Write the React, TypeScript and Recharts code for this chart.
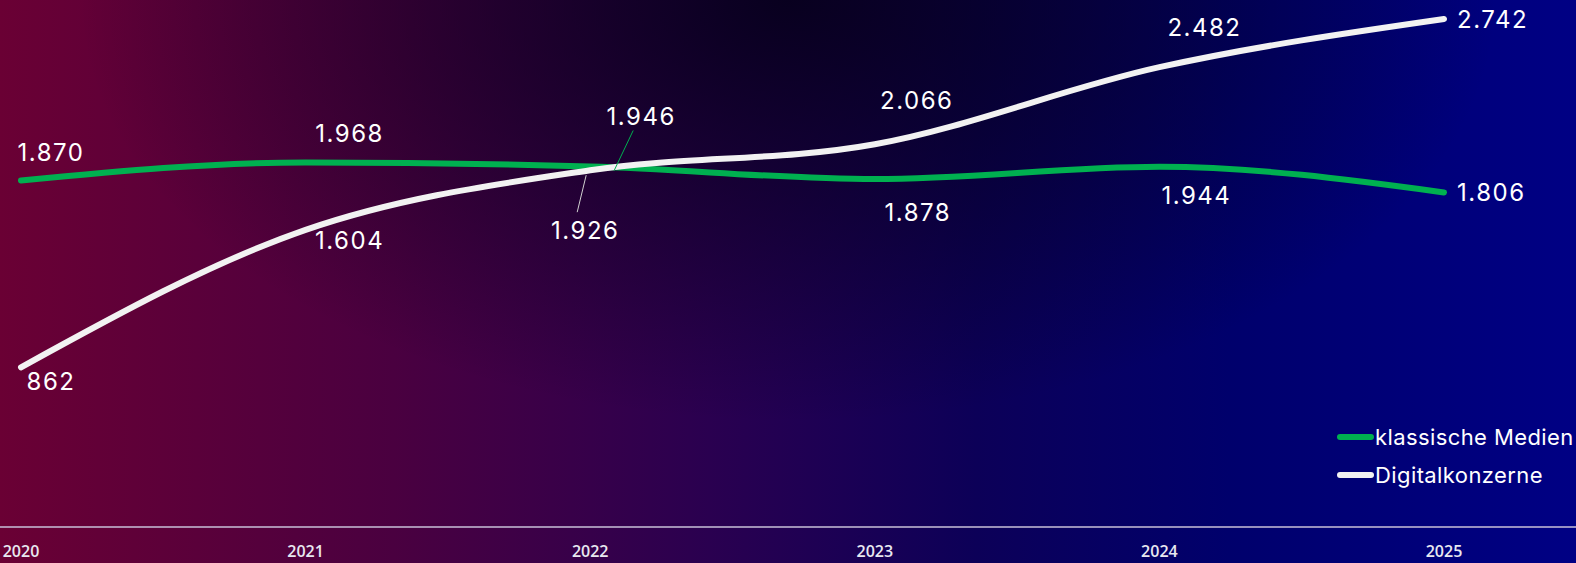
import React from 'react'
import { LineChart, Line, XAxis, YAxis, Legend, LabelList } from 'recharts'

const years = ['2020', '2021', '2022', '2023', '2024', '2025']
const klassischeMedien = [1870, 1968, 1946, 1878, 1944, 1806]
const digitalkonzerne = [862, 1604, 1926, 2066, 2482, 2742]
const seriesOrder = ['klassische Medien', 'Digitalkonzerne']

// label placement relative to the point (dx, dy of text centre, optional leader line)
type LabelPos = { dx: number; dy: number; anchor?: 'start' | 'middle'; leader?: [number, number, number, number] }
const greenLabels: LabelPos[] = [
    { dx: 30, dy: -28 },
    { dx: 44, dy: -29 },
    { dx: 51, dy: -50, leader: [43, -36, 24, 4] },
    { dx: 43, dy: 33 },
    { dx: 37, dy: 29 },
    { dx: 13, dy: 0, anchor: 'start' },
]
const whiteLabels: LabelPos[] = [
    { dx: 30, dy: 14 },
    { dx: 44, dy: 11 },
    { dx: -5, dy: 60, leader: [-13, 42, -4, 5] },
    { dx: 42, dy: -44 },
    { dx: 45, dy: -40 },
    { dx: 13, dy: 0, anchor: 'start' },
]

const GREEN = '#00b050'
const WHITE = '#f2f2f2'

const data = years.map((y, i) => ({
    year: y,
    klassisch: klassischeMedien[i],
    digital: digitalkonzerne[i],
}))

const fmt = (v: number) => {
    if (v < 1000) return String(v)
    const t = Math.floor(v / 1000)
    const r = String(v % 1000).padStart(3, '0')
    return `${t}.${r}`
}

const makeLabel = (positions: LabelPos[], leaderColor: string) => (props: any) => {
    const { x, y, value, index } = props
    const p = positions[index]
    if (!p) return null
    return (
        <g>
            {p.leader && (
                <line
                    x1={x + p.leader[0]}
                    y1={y + p.leader[1]}
                    x2={x + p.leader[2]}
                    y2={y + p.leader[3]}
                    stroke={leaderColor}
                    strokeWidth={1}
                />
            )}
            <text
                x={x + p.dx}
                y={y + p.dy}
                textAnchor={p.anchor ?? 'middle'}
                dominantBaseline="central"
                fill="#ffffff"
                fontSize={24}
                letterSpacing={1.5}
                fontFamily="Inter, 'Noto Sans', sans-serif"
            >
                {fmt(Number(value))}
            </text>
        </g>
    )
}

const YearTick = (props: any) => {
    const { x, y, payload } = props
    return (
        <text
            x={x}
            y={y + 16}
            textAnchor="middle"
            dominantBaseline="central"
            fill="#e8e8f0"
            fontSize={16}
            fontWeight={600}
            fontFamily="'Open Sans', sans-serif"
        >
            {payload.value}
        </text>
    )
}

// zero-size root so the legend takes no room from the plot
const LegendContent = (props: any) => {
    const items = [...(props.payload ?? [])].sort(
        (a: any, b: any) => seriesOrder.indexOf(a.value) - seriesOrder.indexOf(b.value),
    )
    return (
        <div style={{ width: 0, height: 0, overflow: 'visible', position: 'relative' }}>
            <div style={{ position: 'absolute', left: 0, top: 0, width: 240, display: 'flex', flexDirection: 'column', gap: 12 }}>
                {items.map((it: any) => (
                    <div key={it.value} style={{ display: 'flex', alignItems: 'center', height: 26, whiteSpace: 'nowrap' }}>
                        <span
                            style={{
                                display: 'inline-block',
                                width: 37,
                                height: 6,
                                borderRadius: 3,
                                background: it.color,
                            }}
                        />
                        <span
                            style={{
                                marginLeft: 1,
                                color: '#ffffff',
                                fontSize: 22,
                                letterSpacing: 0.4,
                                fontFamily: "Inter, 'Noto Sans', sans-serif",
                            }}
                        >
                            {it.value}
                        </span>
                    </div>
                ))}
            </div>
        </div>
    )
}

export default function App() {
    return (
        <div
            style={{
                position: 'relative',
                width: 1576,
                height: 563,
                overflow: 'hidden',
                background:
                    'radial-gradient(ellipse 45% 75% at 50% 0%, rgba(4,0,22,0.85) 0%, rgba(4,0,22,0) 100%), linear-gradient(90deg, #6a0034 0%, #4a0040 25%, #2a0050 45%, #0c0058 62%, #00006c 78%, #000084 100%)',
            }}
        >
            <style>{'body{margin:0}'}</style>
            <LineChart width={1576} height={563} data={data} margin={{ top: 19, right: 0, bottom: 0, left: 0 }}>
                <XAxis
                    dataKey="year"
                    height={36}
                    padding={{ left: 21, right: 132 }}
                    axisLine={{ stroke: '#c8c0d8', strokeWidth: 1.5 }}
                    tickLine={false}
                    tick={<YearTick />}
                    interval={0}
                />
                <YAxis hide domain={[0, 2742]} />
                <Legend
                    layout="vertical"
                    align="right"
                    verticalAlign="top"
                    content={<LegendContent />}
                    wrapperStyle={{ left: 1337, top: 424, width: 0, height: 0 }}
                />
                <Line
                    name="klassische Medien"
                    dataKey="klassisch"
                    type="monotone"
                    stroke={GREEN}
                    strokeWidth={6}
                    strokeLinecap="round"
                    dot={false}
                    activeDot={false}
                    isAnimationActive={false}
                >
                    <LabelList dataKey="klassisch" content={makeLabel(greenLabels, GREEN)} />
                </Line>
                <Line
                    name="Digitalkonzerne"
                    dataKey="digital"
                    type="monotone"
                    stroke={WHITE}
                    strokeWidth={6}
                    strokeLinecap="round"
                    dot={false}
                    activeDot={false}
                    isAnimationActive={false}
                >
                    <LabelList dataKey="digital" content={makeLabel(whiteLabels, '#d0d0d0')} />
                </Line>
            </LineChart>
        </div>
    )
}
